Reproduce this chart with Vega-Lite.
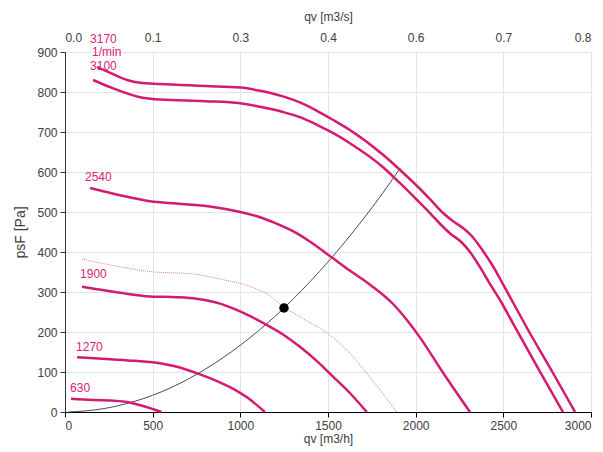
{
  "$schema": "https://vega.github.io/schema/vega-lite/v6.json",
  "width": 526,
  "height": 360,
  "autosize": {"type": "none"},
  "padding": {"left": 65, "top": 52, "right": 12, "bottom": 40},
  "background": "white",
  "config": {
    "font": "Liberation Sans",
    "view": {"stroke": null},
    "axis": {
      "labelFont": "Liberation Sans",
      "titleFont": "Liberation Sans",
      "labelFontSize": 12,
      "titleFontSize": 12,
      "titleFontWeight": "normal",
      "labelColor": "#404040",
      "titleColor": "#404040",
      "gridColor": "#e4e4e4",
      "gridWidth": 1
    }
  },
  "datasets": {
    "curves": [
      {"curve": "3170", "q": 182, "p": 863}, {"curve": "3170", "q": 257, "p": 848}, {"curve": "3170", "q": 354, "p": 830}, {"curve": "3170", "q": 428, "p": 823}, {"curve": "3170", "q": 542, "p": 820}, {"curve": "3170", "q": 800, "p": 815}, {"curve": "3170", "q": 1000, "p": 811}, {"curve": "3170", "q": 1112, "p": 803}, {"curve": "3170", "q": 1243, "p": 789}, {"curve": "3170", "q": 1340, "p": 774}, {"curve": "3170", "q": 1437, "p": 753}, {"curve": "3170", "q": 1530, "p": 730}, {"curve": "3170", "q": 1625, "p": 705}, {"curve": "3170", "q": 1814, "p": 643}, {"curve": "3170", "q": 1911, "p": 605}, {"curve": "3170", "q": 2008, "p": 565}, {"curve": "3170", "q": 2080, "p": 533}, {"curve": "3170", "q": 2150, "p": 500}, {"curve": "3170", "q": 2210, "p": 478}, {"curve": "3170", "q": 2270, "p": 460}, {"curve": "3170", "q": 2320, "p": 440}, {"curve": "3170", "q": 2380, "p": 405}, {"curve": "3170", "q": 2440, "p": 365}, {"curve": "3170", "q": 2500, "p": 318}, {"curve": "3170", "q": 2560, "p": 270}, {"curve": "3170", "q": 2635, "p": 210}, {"curve": "3170", "q": 2780, "p": 100}, {"curve": "3170", "q": 2909, "p": 0},
      {"curve": "3100", "q": 160, "p": 830}, {"curve": "3100", "q": 257, "p": 812}, {"curve": "3100", "q": 428, "p": 787}, {"curve": "3100", "q": 542, "p": 781}, {"curve": "3100", "q": 800, "p": 777}, {"curve": "3100", "q": 1000, "p": 772}, {"curve": "3100", "q": 1112, "p": 763}, {"curve": "3100", "q": 1243, "p": 750}, {"curve": "3100", "q": 1340, "p": 737}, {"curve": "3100", "q": 1437, "p": 718}, {"curve": "3100", "q": 1530, "p": 697}, {"curve": "3100", "q": 1625, "p": 672}, {"curve": "3100", "q": 1814, "p": 612}, {"curve": "3100", "q": 1911, "p": 572}, {"curve": "3100", "q": 2008, "p": 530}, {"curve": "3100", "q": 2080, "p": 498}, {"curve": "3100", "q": 2140, "p": 470}, {"curve": "3100", "q": 2200, "p": 445}, {"curve": "3100", "q": 2260, "p": 425}, {"curve": "3100", "q": 2310, "p": 400}, {"curve": "3100", "q": 2367, "p": 362}, {"curve": "3100", "q": 2420, "p": 323}, {"curve": "3100", "q": 2481, "p": 280}, {"curve": "3100", "q": 2567, "p": 212}, {"curve": "3100", "q": 2700, "p": 108}, {"curve": "3100", "q": 2840, "p": 0},
      {"curve": "2540", "q": 143, "p": 560}, {"curve": "2540", "q": 314, "p": 542}, {"curve": "2540", "q": 485, "p": 527}, {"curve": "2540", "q": 637, "p": 521}, {"curve": "2540", "q": 827, "p": 514}, {"curve": "2540", "q": 1000, "p": 500}, {"curve": "2540", "q": 1112, "p": 487}, {"curve": "2540", "q": 1200, "p": 472}, {"curve": "2540", "q": 1300, "p": 452}, {"curve": "2540", "q": 1400, "p": 425}, {"curve": "2540", "q": 1511, "p": 390}, {"curve": "2540", "q": 1620, "p": 355}, {"curve": "2540", "q": 1740, "p": 318}, {"curve": "2540", "q": 1871, "p": 270}, {"curve": "2540", "q": 1950, "p": 230}, {"curve": "2540", "q": 2025, "p": 186}, {"curve": "2540", "q": 2158, "p": 97}, {"curve": "2540", "q": 2310, "p": 0},
      {"curve": "1900", "q": 97, "p": 313}, {"curve": "1900", "q": 314, "p": 298}, {"curve": "1900", "q": 485, "p": 289}, {"curve": "1900", "q": 637, "p": 287}, {"curve": "1900", "q": 750, "p": 283}, {"curve": "1900", "q": 884, "p": 271}, {"curve": "1900", "q": 958, "p": 259}, {"curve": "1900", "q": 1050, "p": 241}, {"curve": "1900", "q": 1150, "p": 218}, {"curve": "1900", "q": 1250, "p": 192}, {"curve": "1900", "q": 1340, "p": 163}, {"curve": "1900", "q": 1440, "p": 126}, {"curve": "1900", "q": 1530, "p": 88}, {"curve": "1900", "q": 1630, "p": 45}, {"curve": "1900", "q": 1721, "p": 0},
      {"curve": "1270", "q": 69, "p": 137}, {"curve": "1270", "q": 257, "p": 132}, {"curve": "1270", "q": 400, "p": 128}, {"curve": "1270", "q": 542, "p": 122}, {"curve": "1270", "q": 640, "p": 113}, {"curve": "1270", "q": 770, "p": 94}, {"curve": "1270", "q": 884, "p": 74}, {"curve": "1270", "q": 960, "p": 58}, {"curve": "1270", "q": 1040, "p": 36}, {"curve": "1270", "q": 1140, "p": 0},
      {"curve": "630", "q": 34, "p": 33}, {"curve": "630", "q": 160, "p": 30}, {"curve": "630", "q": 260, "p": 29}, {"curve": "630", "q": 354, "p": 25}, {"curve": "630", "q": 445, "p": 15}, {"curve": "630", "q": 550, "p": 0}
    ],
    "dotted": [
      {"q": 97, "p": 382}, {"q": 314, "p": 363}, {"q": 485, "p": 351}, {"q": 730, "p": 345}, {"q": 900, "p": 331}, {"q": 1073, "p": 311}, {"q": 1160, "p": 293}, {"q": 1249, "p": 262}, {"q": 1340, "p": 238}, {"q": 1511, "p": 192}, {"q": 1600, "p": 158}, {"q": 1683, "p": 117}, {"q": 1797, "p": 55}, {"q": 1893, "p": 0}
    ],
    "system": [
      {"q": 20, "p": 0}, {"q": 200, "p": 7}, {"q": 400, "p": 27}, {"q": 600, "p": 60}, {"q": 800, "p": 107}, {"q": 1000, "p": 167}, {"q": 1200, "p": 240}, {"q": 1400, "p": 327}, {"q": 1600, "p": 427}, {"q": 1800, "p": 540}, {"q": 1911, "p": 609}
    ],
    "point": [{"q": 1249, "p": 260}],
    "labels": [
      {"label": "3170", "q": 143, "p": 933},
      {"label": "1/min", "q": 154, "p": 900},
      {"label": "3100", "q": 143, "p": 865},
      {"label": "2540", "q": 114, "p": 588},
      {"label": "1900", "q": 86, "p": 344},
      {"label": "1270", "q": 63, "p": 163},
      {"label": "630", "q": 29, "p": 60}
    ]
  },
  "resolve": {"scale": {"x": "shared", "y": "shared"}, "axis": {"x": "independent", "y": "independent"}},
  "layer": [
    {
      "data": {"name": "system"},
      "mark": {"type": "line", "color": "#4a4a4a", "strokeWidth": 1, "interpolate": "monotone"},
      "encoding": {
        "x": {"field": "q", "type": "quantitative", "scale": {"domain": [0, 3000], "nice": false},
          "axis": {"orient": "bottom", "values": [0, 500, 1000, 1500, 2000, 2500, 3000], "format": "d", "title": "qv [m3/h]", "grid": true, "domainColor": "#000000", "tickColor": "#000000", "tickSize": 5, "labelPadding": 3, "titlePadding": 2}},
        "y": {"field": "p", "type": "quantitative", "scale": {"domain": [0, 900], "nice": false},
          "axis": {"orient": "left", "values": [0, 100, 200, 300, 400, 500, 600, 700, 800, 900], "format": "d", "title": "psF [Pa]", "titleFontSize": 14, "grid": true, "domainColor": "#333333", "tickColor": "#333333", "tickSize": 5, "labelPadding": 3, "titlePadding": 9}}
      }
    },
    {
      "data": {"name": "dotted"},
      "mark": {"type": "line", "color": "#e07aa6", "strokeWidth": 1, "strokeDash": [1, 1], "interpolate": "monotone"},
      "encoding": {
        "x": {"field": "q", "type": "quantitative",
          "axis": {"orient": "top", "values": [0, 500, 1000, 1500, 2000, 2500, 3000], "labelExpr": "format(datum.value / 3600, '.1f')", "title": "qv [m3/s]", "grid": false, "domain": false, "ticks": false, "tickSize": 0, "labelPadding": 8, "titlePadding": 8}},
        "y": {"field": "p", "type": "quantitative", "axis": null}
      }
    },
    {
      "data": {"name": "curves"},
      "mark": {"type": "line", "color": "#d41a71", "strokeWidth": 2.5, "interpolate": "monotone"},
      "encoding": {
        "x": {"field": "q", "type": "quantitative", "axis": null},
        "y": {"field": "p", "type": "quantitative", "axis": null},
        "detail": {"field": "curve"}
      }
    },
    {
      "data": {"name": "point"},
      "mark": {"type": "circle", "color": "#000000", "opacity": 1, "size": 90},
      "encoding": {
        "x": {"field": "q", "type": "quantitative", "axis": null},
        "y": {"field": "p", "type": "quantitative", "axis": null}
      }
    },
    {
      "data": {"name": "labels"},
      "mark": {"type": "text", "color": "#d6237a", "fontSize": 12, "align": "left", "baseline": "middle", "font": "Liberation Sans"},
      "encoding": {
        "x": {"field": "q", "type": "quantitative", "axis": null},
        "y": {"field": "p", "type": "quantitative", "axis": null},
        "text": {"field": "label"}
      }
    }
  ]
}
